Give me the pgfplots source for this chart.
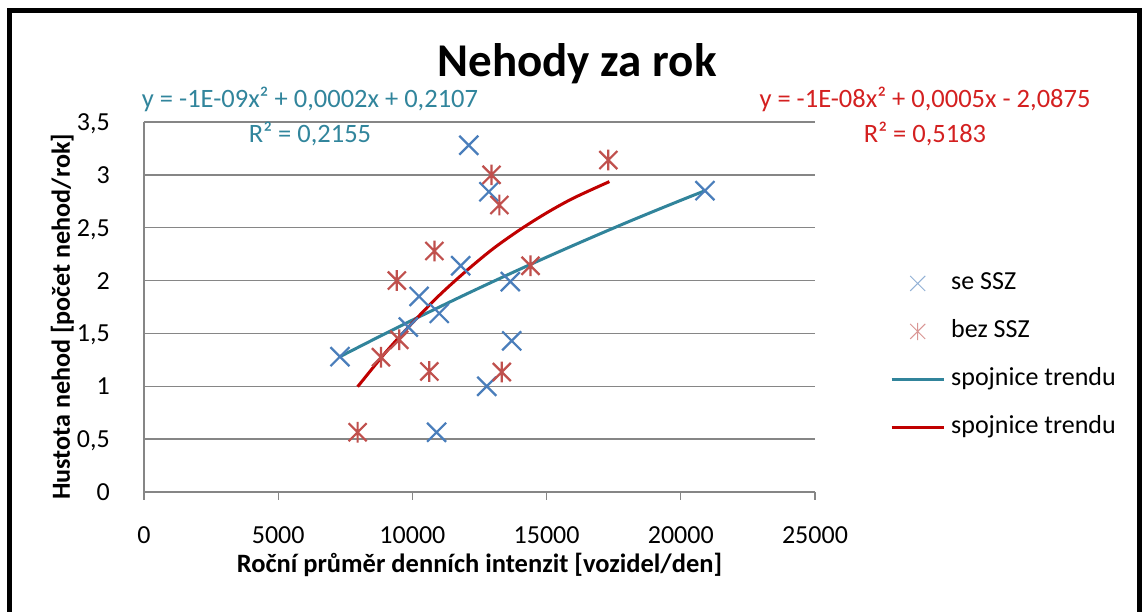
\documentclass[border=0pt]{standalone}
\usepackage{fontspec}
\setmainfont{Carlito}
\usepackage{pgfplots}
\pgfplotsset{compat=1.18}
\definecolor{sszblue}{RGB}{74,126,187}
\definecolor{sszred}{RGB}{192,80,77}
\definecolor{trendteal}{RGB}{49,132,155}
\definecolor{trendred}{RGB}{192,0,0}
\definecolor{axgray}{RGB}{134,134,134}
\definecolor{eqteal}{RGB}{49,133,156}
\definecolor{eqred}{RGB}{212,32,32}
\pgfdeclareplotmark{bigx}{%
  \pgfpathmoveto{\pgfqpoint{-\pgfplotmarksize}{-\pgfplotmarksize}}%
  \pgfpathlineto{\pgfqpoint{\pgfplotmarksize}{\pgfplotmarksize}}%
  \pgfpathmoveto{\pgfqpoint{-\pgfplotmarksize}{\pgfplotmarksize}}%
  \pgfpathlineto{\pgfqpoint{\pgfplotmarksize}{-\pgfplotmarksize}}%
  \pgfusepathqstroke}
\pgfdeclareplotmark{xstar}{%
  \pgfpathmoveto{\pgfqpoint{-\pgfplotmarksize}{-\pgfplotmarksize}}%
  \pgfpathlineto{\pgfqpoint{\pgfplotmarksize}{\pgfplotmarksize}}%
  \pgfpathmoveto{\pgfqpoint{-\pgfplotmarksize}{\pgfplotmarksize}}%
  \pgfpathlineto{\pgfqpoint{\pgfplotmarksize}{-\pgfplotmarksize}}%
  \pgfpathmoveto{\pgfqpoint{0pt}{-1.15\pgfplotmarksize}}%
  \pgfpathlineto{\pgfqpoint{0pt}{1.15\pgfplotmarksize}}%
  \pgfusepathqstroke}
\pgfplotsset{
  markleg/.style={legend image code/.code={\draw[##1, mark size=7.5pt, mark options={line width=1pt, opacity=0.6}] plot coordinates {(26pt,0pt)};}},
  lineleg/.style={legend image code/.code={\draw[##1] (0pt,0pt) -- (52pt,0pt);}},
}
\begin{document}
\begin{tikzpicture}[x=1pt,y=1pt]
\useasboundingbox (0,0) rectangle (1143,612);
\fill[white] (0,0) rectangle (1143,612);
\draw[black, line width=4.5pt] (9.5,0) -- (9.5,601.5) -- (1139.5,601.5) -- (1139.5,0);
\begin{axis}[
  at={(144pt,120pt)}, anchor=south west,
  width=671pt, height=370pt, scale only axis,
  xmin=0, xmax=25000, ymin=0, ymax=3.5,
  xtick={0,5000,10000,15000,20000,25000},
  ytick={0,0.5,1,1.5,2,2.5,3,3.5},
  scaled x ticks=false,
  /pgf/number format/.cd, use comma, 1000 sep={}, assume math mode=true, /pgfplots/.cd,
  axis line style={draw=none},
  ymajorgrids, grid style={axgray, line width=1.3pt},
  tick align=outside, major tick length=8pt,
  xtick pos=bottom, ytick pos=left,
  xtick style={axgray, line width=1.3pt},
  ytick style={draw=none},
  xticklabel style={font=\fontsize{26}{30}\selectfont, anchor=north, inner sep=0pt, yshift=-26pt},
  yticklabel style={font=\fontsize{26}{30}\selectfont, anchor=east, inner sep=0pt, xshift=-26pt, text depth=0pt},
  xlabel={\textbf{Roční průměr denních intenzit [vozidel/den]}},
  ylabel={\textbf{Hustota nehod [počet nehod/rok]}},
  xlabel style={font=\fontsize{26.5}{30}\selectfont, at={(axis description cs:0.5,-0.2189)}, anchor=base},
  ylabel style={font=\fontsize{26.1}{30}\selectfont, at={(axis description cs:-0.1103,0.473)}, anchor=base},
  clip=false,
  legend style={at={(axis description cs:1.1118,0.369)}, anchor=west, draw=none, fill=none,
    font=\fontsize{26}{30}\selectfont, row sep=24pt, column sep=6pt, inner sep=0pt,
    nodes={inner sep=0pt, text height=18pt, text depth=6pt}},
  legend cell align=left,
]
\draw[axgray, line width=1.3pt] (axis cs:0,0) -- (axis cs:0,3.5);
\addplot[only marks, mark=bigx, mark size=9.5pt, draw=sszblue, mark options={line width=2.2pt}, markleg]
  coordinates {
  (12100,3.28) (12850,2.84) (20900,2.85) (11800,2.14) (13650,1.99) (10250,1.85)
  (11000,1.69) (9850,1.56) (7300,1.28) (13700,1.43) (12770,1.00) (10900,0.565)
  };
\addlegendentry{se SSZ}
\addplot[only marks, mark=xstar, mark size=9pt, draw=sszred, mark options={line width=2.2pt}, markleg]
  coordinates {
  (17300,3.14) (12950,3.0) (13240,2.715) (10820,2.28) (14400,2.14) (9420,2.0)
  (9510,1.44) (8830,1.275) (10630,1.14) (13330,1.135) (7960,0.565)
  };
\addlegendentry{bez SSZ}
\addplot[trendteal, line width=3pt, smooth, no marks, lineleg]
  coordinates {
  (7300,1.28) (8000,1.371) (9000,1.500) (10000,1.626) (11000,1.749) (12000,1.871)
  (13000,1.990) (14000,2.107) (15000,2.221) (16000,2.333) (17000,2.443)
  (18000,2.551) (19000,2.656) (20000,2.759) (20900,2.85)
  };
\addlegendentry{spojnice trendu}
\addplot[trendred, line width=3pt, smooth, no marks, lineleg]
  coordinates {
  (7960,0.996) (9000,1.32) (10000,1.60) (11000,1.86) (12000,2.09) (13000,2.30)
  (14000,2.48) (15000,2.64) (16000,2.78) (17340,2.936)
  };
\addlegendentry{spojnice trendu}
\end{axis}
\node[anchor=base, font=\fontsize{47}{54}\selectfont\bfseries] at (577,535) {Nehody za rok};
\node[anchor=base, text=eqteal, font=\fontsize{26.5}{30}\selectfont] at (310,504) {y = -1E-09x² + 0,0002x + 0,2107};
\node[anchor=base, text=eqteal, font=\fontsize{26.5}{30}\selectfont] at (310,469) {R² = 0,2155};
\node[anchor=base, text=eqred, font=\fontsize{26.5}{30}\selectfont] at (925,504) {y = -1E-08x² + 0,0005x - 2,0875};
\node[anchor=base, text=eqred, font=\fontsize{26.5}{30}\selectfont] at (925,469) {R² = 0,5183};
\end{tikzpicture}
\end{document}
